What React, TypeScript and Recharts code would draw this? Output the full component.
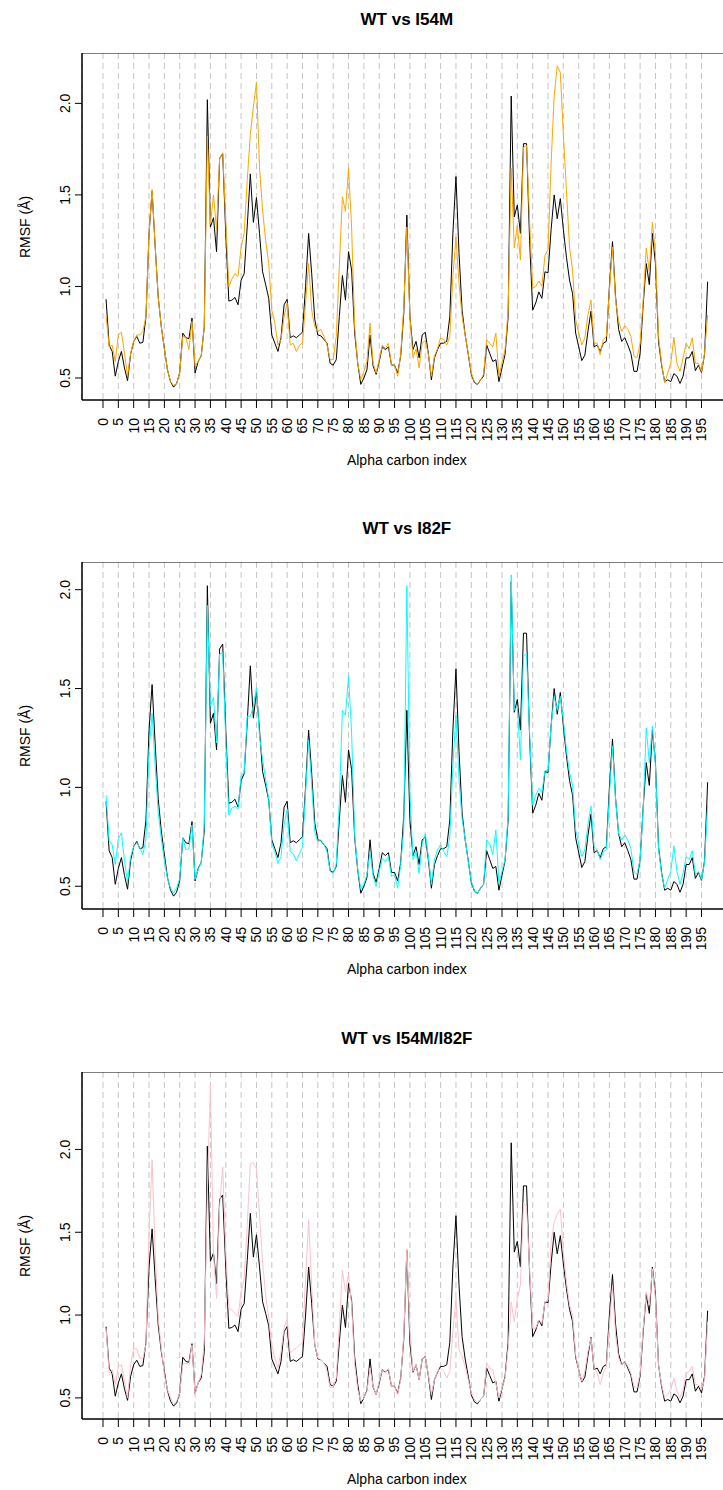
import { CartesianGrid, Line, LineChart, ReferenceArea, XAxis, YAxis } from "recharts";

// RMSF per alpha carbon (index 1..197)
const wtRmsf = [
  0.93, 0.68, 0.645, 0.51, 0.59, 0.645, 0.555, 0.485, 0.63, 0.7,
  0.727, 0.69, 0.695, 0.835, 1.29, 1.52, 1.22, 0.94, 0.78, 0.66,
  0.545, 0.48, 0.45, 0.47, 0.53, 0.745, 0.72, 0.715, 0.827, 0.527,
  0.59, 0.62, 0.78, 2.02, 1.325, 1.375, 1.19, 1.7, 1.725, 1.29,
  0.92, 0.925, 0.94, 0.9, 1.035, 1.07, 1.33, 1.615, 1.35, 1.485,
  1.29, 1.08, 1.01, 0.935, 0.735, 0.69, 0.645, 0.72, 0.9, 0.93,
  0.72, 0.73, 0.72, 0.735, 0.75, 1.0, 1.29, 1.07, 0.82, 0.735,
  0.73, 0.71, 0.69, 0.58, 0.57, 0.6, 0.835, 1.06, 0.925, 1.19,
  1.09, 0.745, 0.58, 0.465, 0.5, 0.545, 0.735, 0.565, 0.52, 0.59,
  0.67, 0.655, 0.67, 0.57, 0.57, 0.527, 0.62, 0.855, 1.39, 0.835,
  0.655, 0.7, 0.61, 0.735, 0.75, 0.635, 0.49, 0.61, 0.655, 0.69,
  0.69, 0.7, 0.835, 1.29, 1.6, 1.18, 0.87, 0.735, 0.63, 0.52,
  0.476, 0.464, 0.49, 0.51, 0.68, 0.635, 0.59, 0.6, 0.48, 0.555,
  0.63, 0.835, 2.04, 1.38, 1.445, 1.29, 1.78, 1.78, 1.25, 0.87,
  0.91, 0.97, 0.935, 1.08, 1.075, 1.31, 1.5, 1.37, 1.48, 1.31,
  1.16, 1.035, 0.96, 0.745, 0.67, 0.595, 0.625, 0.755, 0.865, 0.67,
  0.68, 0.645, 0.69, 0.7, 1.0, 1.245, 0.945, 0.765, 0.7, 0.72,
  0.68, 0.635, 0.536, 0.536, 0.635, 0.9, 1.125, 1.01, 1.29, 1.125,
  0.7, 0.57, 0.48, 0.49, 0.48, 0.524, 0.51, 0.47, 0.51, 0.61,
  0.61, 0.645, 0.54, 0.57, 0.53, 0.63, 1.026,
];

const i54mRmsf = [
  0.84, 0.67, 0.68, 0.59, 0.735, 0.75, 0.635, 0.51, 0.635, 0.7,
  0.735, 0.735, 0.755, 0.835, 1.29, 1.53, 1.22, 0.94, 0.78, 0.66,
  0.545, 0.48, 0.46, 0.47, 0.53, 0.727, 0.72, 0.655, 0.81, 0.565,
  0.59, 0.62, 0.78, 1.82, 1.34, 1.5, 1.31, 1.7, 1.73, 1.36,
  1.0, 1.04, 1.07, 1.055, 1.215, 1.29, 1.58, 1.83, 1.98, 2.115,
  1.65, 1.415, 1.25, 1.125, 0.87, 0.8, 0.68, 0.71, 0.835, 0.91,
  0.68, 0.69, 0.645, 0.68, 0.69, 0.91, 1.125, 0.87, 0.78, 0.755,
  0.765, 0.727, 0.68, 0.6, 0.6, 0.727, 1.11, 1.49, 1.41, 1.645,
  1.325, 0.78, 0.58, 0.49, 0.535, 0.59, 0.8, 0.58, 0.527, 0.6,
  0.68, 0.66, 0.69, 0.57, 0.57, 0.51, 0.63, 0.89, 1.325, 0.835,
  0.61, 0.66, 0.555, 0.69, 0.705, 0.63, 0.51, 0.62, 0.66, 0.72,
  0.71, 0.68, 0.727, 1.055, 1.27, 1.015, 0.835, 0.735, 0.635, 0.527,
  0.48, 0.464, 0.49, 0.52, 0.71, 0.69, 0.67, 0.745, 0.51, 0.58,
  0.655, 0.87, 1.645, 1.21, 1.335, 1.145, 1.76, 1.77, 1.36, 0.99,
  1.0, 1.03, 1.0, 1.17, 1.2, 1.67, 2.04, 2.205, 2.17, 1.83,
  1.525, 1.215, 1.09, 0.82, 0.745, 0.68, 0.72, 0.845, 0.925, 0.69,
  0.69, 0.627, 0.71, 0.727, 0.98, 1.215, 0.925, 0.81, 0.755, 0.785,
  0.765, 0.727, 0.62, 0.61, 0.69, 0.925, 1.21, 1.08, 1.35, 1.18,
  0.727, 0.58, 0.473, 0.527, 0.58, 0.723, 0.58, 0.536, 0.61, 0.69,
  0.66, 0.72, 0.58, 0.58, 0.536, 0.635, 0.845,
];

const i82fRmsf = [
  0.96, 0.73, 0.71, 0.61, 0.74, 0.77, 0.63, 0.52, 0.65, 0.7,
  0.72, 0.695, 0.66, 0.74, 1.19, 1.375, 1.11, 0.875, 0.74, 0.63,
  0.54, 0.49, 0.465, 0.49, 0.54, 0.745, 0.685, 0.69, 0.81, 0.535,
  0.585, 0.62, 0.81, 1.92, 1.41, 1.455, 1.225, 1.675, 1.68, 1.24,
  0.86, 0.895, 0.905, 0.89, 1.06, 1.075, 1.36, 1.36, 1.41, 1.505,
  1.26, 1.14, 1.04, 0.94, 0.715, 0.675, 0.615, 0.65, 0.81, 0.89,
  0.675, 0.665, 0.63, 0.665, 0.7, 0.975, 1.24, 1.01, 0.775, 0.725,
  0.735, 0.71, 0.675, 0.575, 0.565, 0.61, 0.925, 1.39, 1.365, 1.565,
  1.275, 0.76, 0.585, 0.485, 0.51, 0.56, 0.675, 0.55, 0.5, 0.575,
  0.64, 0.625, 0.65, 0.55, 0.56, 0.49, 0.61, 0.79, 2.02, 0.975,
  0.635, 0.675, 0.565, 0.715, 0.765, 0.65, 0.51, 0.635, 0.685, 0.71,
  0.675, 0.65, 0.75, 1.11, 1.365, 1.04, 0.84, 0.74, 0.625, 0.525,
  0.48, 0.465, 0.49, 0.51, 0.735, 0.715, 0.66, 0.785, 0.515, 0.575,
  0.635, 0.86, 2.075, 1.39, 1.41, 1.14, 1.665, 1.675, 1.275, 0.91,
  0.96, 0.995, 0.975, 1.085, 1.085, 1.31, 1.46, 1.39, 1.46, 1.34,
  1.19, 1.075, 1.01, 0.785, 0.715, 0.65, 0.685, 0.81, 0.905, 0.7,
  0.685, 0.635, 0.675, 0.685, 0.96, 1.21, 0.94, 0.765, 0.735, 0.76,
  0.735, 0.69, 0.575, 0.56, 0.635, 0.89, 1.3, 1.125, 1.31, 1.11,
  0.69, 0.56, 0.49, 0.535, 0.575, 0.705, 0.575, 0.51, 0.565, 0.65,
  0.635, 0.68, 0.56, 0.575, 0.535, 0.62, 0.915,
];

const doubleRmsf = [
  0.92, 0.65, 0.67, 0.58, 0.69, 0.7, 0.6, 0.5, 0.7, 0.8,
  0.795, 0.74, 0.74, 0.82, 1.5, 1.935, 1.38, 0.98, 0.8, 0.64,
  0.55, 0.5, 0.46, 0.48, 0.53, 0.7, 0.71, 0.7, 0.82, 0.52,
  0.59, 0.64, 0.84, 1.75, 2.39, 1.38, 1.1, 1.66, 1.895, 1.38,
  1.04, 1.03, 1.01, 0.99, 1.14, 1.22, 1.54, 1.915, 1.92, 1.885,
  1.6, 1.32, 1.12, 0.98, 0.82, 0.74, 0.68, 0.78, 0.92, 0.98,
  0.77, 0.79, 0.8, 0.82, 0.83, 1.22, 1.575, 1.18, 0.82, 0.74,
  0.73, 0.71, 0.66, 0.56, 0.57, 0.62, 0.94, 1.27, 1.14, 1.25,
  1.06, 0.7, 0.55, 0.48, 0.5, 0.54, 0.68, 0.57, 0.52, 0.6,
  0.67, 0.65, 0.68, 0.57, 0.57, 0.52, 0.61, 0.88, 1.4, 0.9,
  0.66, 0.7, 0.61, 0.74, 0.75, 0.64, 0.52, 0.61, 0.66, 0.68,
  0.66, 0.62, 0.66, 0.9, 1.1, 0.79, 0.75, 0.69, 0.61, 0.53,
  0.49, 0.47, 0.49, 0.51, 0.71, 0.68, 0.67, 0.59, 0.5, 0.56,
  0.62, 0.8, 1.08, 0.96, 1.1, 1.18, 1.675, 1.655, 1.28, 0.92,
  0.92, 0.97, 0.95, 1.08, 1.09, 1.44, 1.56, 1.61, 1.64, 1.38,
  1.2, 1.06, 1.0, 0.76, 0.67, 0.6, 0.66, 0.78, 0.86, 0.68,
  0.65, 0.58, 0.65, 0.69, 0.94, 1.18, 0.88, 0.74, 0.7, 0.72,
  0.69, 0.65, 0.57, 0.56, 0.65, 0.92, 1.14, 1.06, 1.28, 1.1,
  0.7, 0.58, 0.5, 0.52, 0.55, 0.62, 0.54, 0.5, 0.55, 0.65,
  0.66, 0.69, 0.58, 0.58, 0.55, 0.61, 0.96,
];

const xTicks = [
  0, 5, 10, 15, 20, 25, 30, 35, 40, 45, 50, 55, 60, 65, 70, 75, 80, 85, 90, 95,
  100, 105, 110, 115, 120, 125, 130, 135, 140, 145, 150, 155, 160, 165, 170, 175,
  180, 185, 190, 195,
];
const yTicks = [0.5, 1.0, 1.5, 2.0];

const FONT = "'Liberation Sans', Arial, Helvetica, sans-serif";
const CHART_W = 740;
const PLOT_LEFT = 82;
const PLOT_RIGHT = 731.7;
const PLOT_H = 347;
const AXIS_H = 80;

function XTick({ x, y, payload }: any) {
  return (
    <text
      x={x}
      y={y}
      dy="0.35em"
      transform={`rotate(-90, ${x}, ${y})`}
      textAnchor="end"
      fontSize={14}
      fontFamily={FONT}
      fill="#000"
    >
      {payload.value}
    </text>
  );
}

function YTick({ x, y, payload }: any) {
  return (
    <text
      x={x}
      y={y}
      transform={`rotate(-90, ${x}, ${y})`}
      textAnchor="middle"
      fontSize={14}
      fontFamily={FONT}
      fill="#000"
    >
      {Number(payload.value).toFixed(1)}
    </text>
  );
}

type PanelProps = {
  title: string;
  variant: number[];
  color: string;
  plotTop: number;
};

function RmsfPanel({ title, variant, color, plotTop }: PanelProps) {
  const data = wtRmsf.map((wt, i) => ({ idx: i + 1, wt, mut: variant[i] }));
  const all = [...wtRmsf, ...variant];
  const lo = Math.min(...all);
  const hi = Math.max(...all);
  // R-style 4% axis extension
  const yPad = (hi - lo) * 0.04;
  const yDomain = [lo - yPad, hi + yPad];
  const xPad = (data.length - 1) * 0.04;
  const xDomain = [1 - xPad, data.length + xPad];
  const plotMid = (PLOT_LEFT + PLOT_RIGHT) / 2;

  return (
    <>
      <div
        style={{
          position: "absolute",
          left: plotMid - 200,
          width: 400,
          top: plotTop - 45,
          height: 24,
          lineHeight: "24px",
          textAlign: "center",
          fontWeight: "bold",
          fontSize: 17,
          fontFamily: FONT,
        }}
      >
        {title}
      </div>
      <div
        style={{
          position: "absolute",
          left: 24 - PLOT_H / 2,
          top: plotTop + PLOT_H / 2 - 10,
          width: PLOT_H,
          height: 20,
          lineHeight: "20px",
          textAlign: "center",
          fontSize: 14,
          fontFamily: FONT,
          transform: "rotate(-90deg)",
        }}
      >
        RMSF (Å)
      </div>
      <div
        style={{
          position: "absolute",
          left: plotMid - 200,
          width: 400,
          top: plotTop + PLOT_H + 50,
          height: 20,
          lineHeight: "20px",
          textAlign: "center",
          fontSize: 14,
          fontFamily: FONT,
        }}
      >
        Alpha carbon index
      </div>
      <div style={{ position: "absolute", left: 0, top: plotTop }}>
        <LineChart
          width={CHART_W}
          height={PLOT_H + AXIS_H}
          data={data}
          margin={{ top: 0, right: CHART_W - PLOT_RIGHT, bottom: 0, left: 0 }}
        >
          <CartesianGrid horizontal={false} stroke="#c4c4c4" strokeDasharray="6 4" />
          <XAxis
            type="number"
            dataKey="idx"
            domain={xDomain}
            allowDataOverflow
            ticks={xTicks}
            interval={0}
            height={AXIS_H}
            tickSize={8}
            tickMargin={10}
            tick={<XTick />}
            stroke="#000"
          />
          <YAxis
            type="number"
            domain={yDomain}
            allowDataOverflow
            ticks={yTicks}
            interval={0}
            width={PLOT_LEFT}
            tickSize={7}
            tickMargin={5}
            tick={<YTick />}
            stroke="#000"
          />
          <Line
            dataKey="wt"
            type="linear"
            stroke="#000"
            strokeWidth={1}
            dot={false}
            activeDot={false}
            isAnimationActive={false}
          />
          <Line
            dataKey="mut"
            type="linear"
            stroke={color}
            strokeWidth={1}
            dot={false}
            activeDot={false}
            isAnimationActive={false}
          />
          <ReferenceArea
            x1={xDomain[0]}
            x2={xDomain[1]}
            y1={yDomain[0]}
            y2={yDomain[1]}
            fill="none"
            stroke="#000"
            strokeWidth={1}
            ifOverflow="visible"
          />
        </LineChart>
      </div>
    </>
  );
}

export default function App() {
  return (
    <div
      style={{
        position: "absolute",
        left: 0,
        top: 0,
        width: 723,
        height: 1490,
        overflow: "hidden",
        background: "#fff",
      }}
    >
      <RmsfPanel title="WT vs I54M" variant={i54mRmsf} color="#ffa500" plotTop={53} />
      <RmsfPanel title="WT vs I82F" variant={i82fRmsf} color="#00ffff" plotTop={562} />
      <RmsfPanel title="WT vs I54M/I82F" variant={doubleRmsf} color="#ffc0cb" plotTop={1072} />
    </div>
  );
}
